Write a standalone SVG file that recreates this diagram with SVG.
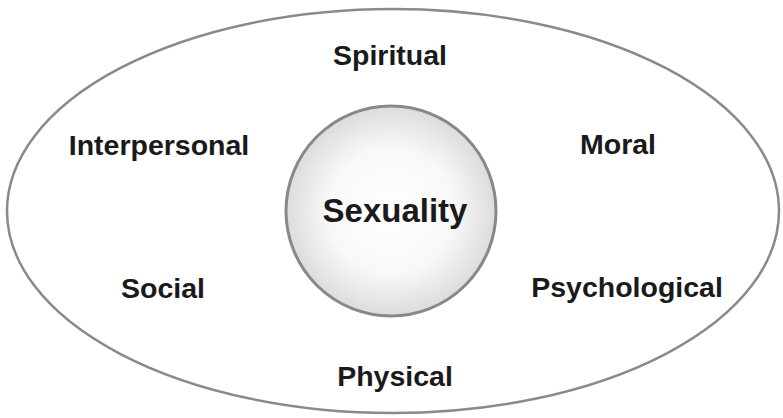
<svg xmlns="http://www.w3.org/2000/svg" width="783" height="418" viewBox="0 0 783 418">
<style>
.lbl{font-family:"Liberation Sans",Arial,Helvetica,sans-serif;font-weight:bold;font-size:28.5px;fill:#1a1a1a;text-anchor:middle}
.core{font-size:33px}
</style>
<defs>
<radialGradient id="g" cx="0.5" cy="0.5" r="0.5">
<stop offset="0" stop-color="#ffffff"/>
<stop offset="0.6" stop-color="#f8f8f8"/>
<stop offset="1" stop-color="#dcdcdc"/>
</radialGradient>
</defs>
<rect width="783" height="418" fill="#ffffff"/>
<g id="outer">
<ellipse cx="393" cy="211" rx="386" ry="202" fill="#ffffff" stroke="#8a8a8a" stroke-width="2.5"/>
</g>
<g id="sexuality">
<circle cx="391" cy="211" r="105" fill="url(#g)" stroke="#888888" stroke-width="3"/>
<text class="lbl core" x="395" y="222">Sexuality</text>
</g>
<g id="spiritual"><text class="lbl" x="390" y="65">Spiritual</text></g>
<g id="interpersonal"><text class="lbl" x="159" y="155">Interpersonal</text></g>
<g id="moral"><text class="lbl" x="618" y="154">Moral</text></g>
<g id="social"><text class="lbl" x="163" y="298">Social</text></g>
<g id="psychological"><text class="lbl" x="627" y="297">Psychological</text></g>
<g id="physical"><text class="lbl" x="395" y="386">Physical</text></g>
<g id="connectors"></g>
</svg>
